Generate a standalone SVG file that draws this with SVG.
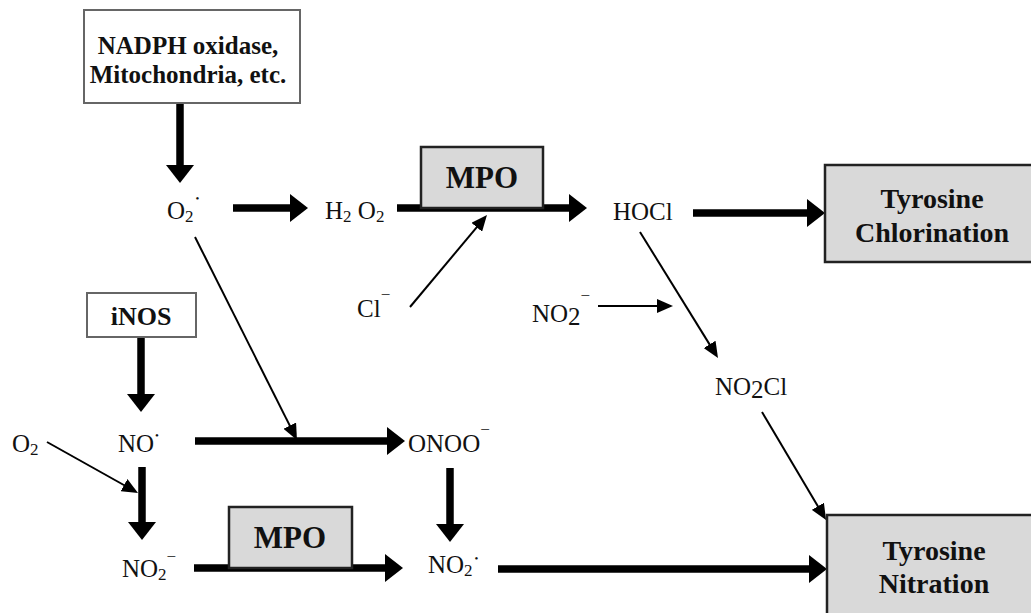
<svg xmlns="http://www.w3.org/2000/svg" width="1031" height="613" viewBox="0 0 1031 613">
<style>
.t{font-family:"Liberation Serif","Times New Roman",serif;font-size:25px;fill:#111}
.d{font-size:11px}
.b{font-family:"Liberation Serif","Times New Roman",serif;font-weight:bold;fill:#111;text-anchor:middle}
.wbox{fill:#fff;stroke:#666;stroke-width:2}
.gbox{fill:#d9d9d9;stroke:#222;stroke-width:2.5}
.thick{stroke:#000;stroke-width:7.5;fill:none;marker-end:url(#hk)}
.thin{stroke:#000;stroke-width:2;fill:none;marker-end:url(#hn)}
</style>
<defs>
<marker id="hk" markerUnits="userSpaceOnUse" viewBox="0 0 18 28" markerWidth="18" markerHeight="28" refX="8" refY="14" orient="auto"><path d="M0,0 L18,14 L0,28 z" fill="#000"/></marker>
<marker id="hn" markerUnits="userSpaceOnUse" viewBox="0 0 16 14" markerWidth="16" markerHeight="14" refX="12" refY="7" orient="auto"><path d="M0,0 L16,7 L0,14 z" fill="#000"/></marker>
</defs>
<rect width="1031" height="613" fill="#fff"/>

<g id="connectors">
<line class="thick" x1="180" y1="103" x2="180" y2="173"/>
<line class="thick" x1="233" y1="208" x2="298" y2="208"/>
<line class="thick" x1="397" y1="208" x2="577" y2="208"/>
<line class="thick" x1="693" y1="213" x2="815" y2="213"/>
<line class="thick" x1="141" y1="337" x2="141" y2="402"/>
<line class="thick" x1="195" y1="441" x2="395" y2="441"/>
<line class="thick" x1="142" y1="467" x2="142" y2="530"/>
<line class="thick" x1="450" y1="468" x2="450" y2="532"/>
<line class="thick" x1="194" y1="568" x2="393" y2="568"/>
<line class="thick" x1="498" y1="569" x2="817" y2="569"/>
<line class="thin" x1="195" y1="237" x2="295.2" y2="436.4"/>
<line class="thin" x1="410" y1="307" x2="484.4" y2="218.1"/>
<line class="thin" x1="598" y1="306" x2="669" y2="306"/>
<line class="thin" x1="640" y1="232" x2="715.9" y2="354.6"/>
<line class="thin" x1="762" y1="412" x2="824" y2="516.6"/>
<line class="thin" x1="47" y1="442" x2="134.5" y2="491"/>
</g>

<g id="nadph"><rect class="wbox" x="84" y="10" width="216" height="93"/>
<text class="b" x="188" y="54" font-size="25">NADPH oxidase,</text>
<text class="b" x="188" y="83" font-size="25">Mitochondria, etc.</text></g>

<g id="o2rad"><text class="t" x="167" y="219">O<tspan font-size="17" dy="3">2</tspan><tspan class="d" dx="2" dy="-20">•</tspan></text></g>
<g id="h2o2"><text class="t" x="325" y="219">H<tspan font-size="17" dy="3">2</tspan><tspan dy="-3"> O</tspan><tspan font-size="17" dy="3">2</tspan></text></g>

<g id="mpo1"><rect class="gbox" x="421" y="147" width="122" height="61"/>
<text class="b" x="482" y="188" font-size="31">MPO</text></g>

<g id="hocl"><text class="t" x="613" y="220">HOCl</text></g>

<g id="tyrchl"><rect class="gbox" x="825" y="165" width="210" height="97"/>
<text class="b" x="932" y="208" font-size="28">Tyrosine</text>
<text class="b" x="932" y="242" font-size="28">Chlorination</text></g>

<g id="cl"><text class="t" x="357" y="317">Cl<tspan font-size="17" dy="-17">−</tspan></text></g>
<g id="no2a"><text class="t" x="532" y="322">NO<tspan dy="3">2</tspan><tspan font-size="17" dy="-24">−</tspan></text></g>
<g id="no2cl"><text class="t" x="715" y="395">NO<tspan dy="3">2</tspan><tspan dy="-3">Cl</tspan></text></g>

<g id="inos"><rect class="wbox" x="87" y="293" width="109" height="44"/>
<text class="b" x="141" y="325" font-size="26">iNOS</text></g>

<g id="o2"><text class="t" x="12" y="452">O<tspan font-size="17" dy="3">2</tspan></text></g>
<g id="no"><text class="t" x="118" y="452">NO<tspan class="d" dx="1" dy="-13">•</tspan></text></g>
<g id="onoo"><text class="t" x="408" y="452">ONOO<tspan font-size="17" dy="-17">−</tspan></text></g>

<g id="no2b"><text class="t" x="122" y="577">NO<tspan font-size="17" dy="3">2</tspan><tspan font-size="17" dy="-18">−</tspan></text></g>

<g id="mpo2"><rect class="gbox" x="229" y="507" width="123" height="61"/>
<text class="b" x="290" y="548" font-size="31">MPO</text></g>

<g id="no2rad"><text class="t" x="428" y="573">NO<tspan font-size="17" dy="3">2</tspan><tspan class="d" dx="2" dy="-14">•</tspan></text></g>

<g id="tyrnit"><rect class="gbox" x="827" y="515" width="210" height="110"/>
<text class="b" x="934" y="560" font-size="28">Tyrosine</text>
<text class="b" x="934" y="593" font-size="28">Nitration</text></g>
</svg>
